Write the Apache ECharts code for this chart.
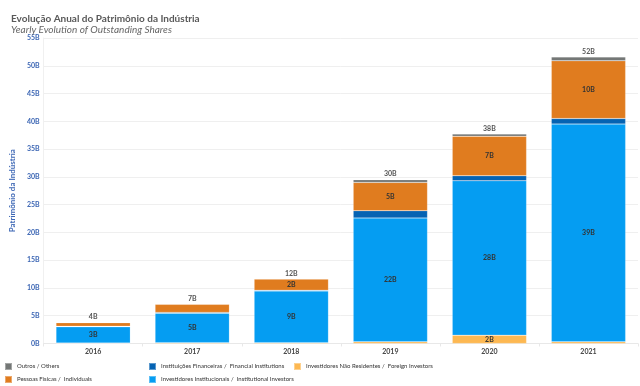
<!DOCTYPE html>
<html>
<head>
<meta charset="utf-8">
<script src="https://cdn.jsdelivr.net/npm/echarts@6/dist/echarts.min.js"></script>
<style>html,body{margin:0;padding:0;background:#fff}#c{width:640px;height:386px}</style>
</head>
<body>
<div id="c"></div>
<script>
var years = ['2016', '2017', '2018', '2019', '2020', '2021'];
var foreign = [0.1, 0.15, 0.15, 0.3, 1.5, 0.3];
var institutional = [2.9, 5.3, 9.3, 22.3, 27.8, 39.2];
var financial = [0.1, 0.15, 0.15, 1.3, 0.9, 1.0];
var individuals = [0.65, 1.45, 2.0, 5.1, 7.1, 10.4];
var others = [0.05, 0.05, 0.05, 0.5, 0.4, 0.7];
var yTicks = [0, 5, 10, 15, 20, 25, 30, 35, 40, 45, 50, 55];

var names = {
  others: 'Outros / Others',
  individuals: 'Pessoas Físicas /  Individuals',
  financial: 'Instituições Financeiras /  Financial Institutions',
  institutional: 'Investidores Institucionais /  Institutional Investors',
  foreign: 'Investidores Não Residentes /  Foreign Investors'
};
var colors = {
  others: '#747776',
  individuals: '#E07C1F',
  financial: '#0563B3',
  institutional: '#059DF2',
  foreign: '#FDB852'
};
var totals = years.map(function (y, i) {
  return foreign[i] + institutional[i] + financial[i] + individuals[i] + others[i];
});
var FONT = 'Lato, "Open Sans", sans-serif';

function seg(key, data) {
  return {
    name: names[key], type: 'bar', stack: 'all', data: data, barWidth: '75%',
    itemStyle: { color: colors[key], borderColor: 'rgba(255,255,255,0.35)', borderWidth: 0.5 },
    label: {
      show: true, position: 'inside', fontSize: 7, fontWeight: 'bold', color: '#333',
      fontFamily: FONT,
      formatter: function (p) { return p.value >= 1.5 ? Math.round(p.value) + 'B' : ''; }
    },
    emphasis: { disabled: true }
  };
}

var series = [
  seg('foreign', foreign),
  seg('institutional', institutional),
  seg('financial', financial),
  seg('individuals', individuals),
  seg('others', others),
  {
    name: 'total', type: 'bar', stack: 'all', data: years.map(function () { return 0; }),
    barWidth: '75%', itemStyle: { color: 'transparent' },
    label: {
      show: true, position: 'top', fontSize: 7, fontWeight: 'bold', color: '#555',
      fontFamily: FONT, distance: 2,
      formatter: function (p) { return Math.round(totals[p.dataIndex]) + 'B'; }
    },
    emphasis: { disabled: true }
  }
];

var legendText = { fontSize: 6, color: '#333', fontFamily: FONT, fontWeight: 'normal' };
function legend(left, data) {
  return {
    left: left, top: 362, orient: 'vertical', itemWidth: 7, itemHeight: 7, itemGap: 4,
    icon: 'rect', textStyle: legendText, data: data, selectedMode: false, padding: 0
  };
}

var chart = echarts.init(document.getElementById('c'));
chart.setOption({
  animation: false,
  title: [
    { text: 'Evolução Anual do Patrimônio da Indústria', left: 6, top: 9,
      textStyle: { fontSize: 10, fontWeight: 'bold', color: '#595959', fontFamily: FONT } },
    { text: 'Yearly Evolution of Outstanding Shares', left: 6, top: 20,
      textStyle: { fontSize: 10, fontStyle: 'italic', fontWeight: 'normal', color: '#666', fontFamily: FONT } }
  ],
  legend: [
    legend(4, [names.others, names.individuals]),
    legend(148, [names.financial, names.institutional]),
    legend(293, [names.foreign])
  ],
  grid: { left: 36, right: 2, top: 38, bottom: 42.5, containLabel: false },
  xAxis: {
    type: 'category', data: years,
    axisLine: { lineStyle: { color: '#e8e8e8' } },
    axisTick: { show: true, alignWithLabel: false, length: 3, lineStyle: { color: '#e8e8e8' } },
    axisLabel: { fontSize: 7, color: '#444', fontFamily: FONT, fontWeight: 'bold', margin: 5 }
  },
  yAxis: {
    type: 'value', min: yTicks[0], max: yTicks[yTicks.length - 1], interval: 5,
    name: 'Patrimônio da Indústria', nameLocation: 'middle', nameGap: 22,
    nameTextStyle: { fontSize: 8, color: '#3C66B4', fontFamily: FONT, fontWeight: 'bold' },
    axisLabel: { fontSize: 7, color: '#3C66B4', fontFamily: FONT, fontWeight: 'bold', margin: 4,
      formatter: function (v) { return v + 'B'; } },
    splitLine: { lineStyle: { color: '#efefef' } },
    axisLine: { show: true, lineStyle: { color: '#f0f0f0' } }
  },
  series: series
});
</script>
</body>
</html>
